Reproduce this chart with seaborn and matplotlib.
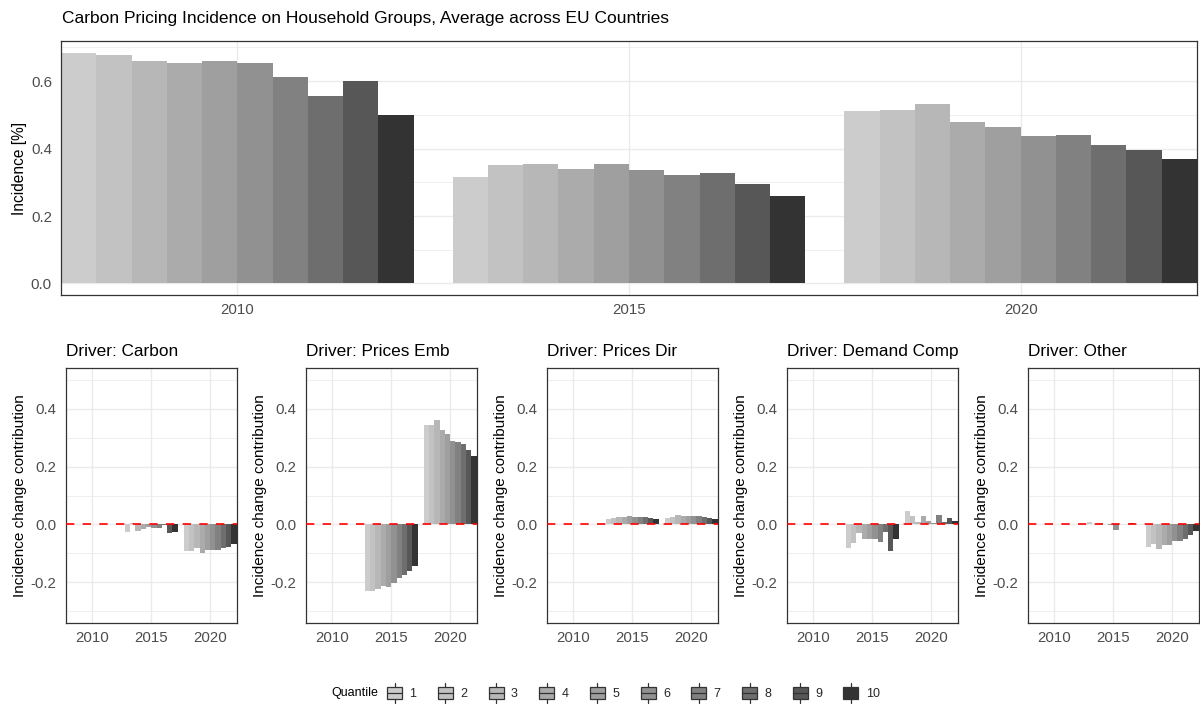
import numpy as np
import pandas as pd
import matplotlib
matplotlib.use("Agg")
import matplotlib.pyplot as plt
import seaborn as sns
from matplotlib.patches import Patch, Rectangle
from matplotlib.lines import Line2D
from matplotlib.legend_handler import HandlerBase

# ---------------- data ----------------
quantiles = ["1", "2", "3", "4", "5", "6", "7", "8", "9", "10"]
years = [2010, 2015, 2020]
incidence_2010 = [0.685, 0.679, 0.661, 0.653, 0.659, 0.653, 0.612, 0.556, 0.602, 0.499]
incidence_2015 = [0.316, 0.352, 0.355, 0.340, 0.355, 0.337, 0.322, 0.328, 0.296, 0.260]
incidence_2020 = [0.511, 0.514, 0.532, 0.479, 0.464, 0.437, 0.440, 0.411, 0.396, 0.369]

change_years = [2015, 2020]
drivers = ["Carbon", "Prices Emb", "Prices Dir", "Demand Comp", "Other"]
carbon_2015 = [-0.025, 0.005, -0.022, -0.017, -0.008, -0.014, -0.014, -0.002, -0.029, -0.025]
carbon_2020 = [-0.091, -0.091, -0.081, -0.098, -0.089, -0.088, -0.087, -0.083, -0.077, -0.067]
prices_emb_2015 = [-0.229, -0.229, -0.225, -0.213, -0.216, -0.201, -0.187, -0.175, -0.160, -0.143]
prices_emb_2020 = [0.345, 0.345, 0.362, 0.325, 0.314, 0.289, 0.286, 0.277, 0.256, 0.235]
prices_dir_2015 = [0.017, 0.023, 0.025, 0.027, 0.029, 0.027, 0.025, 0.024, 0.021, 0.017]
prices_dir_2020 = [0.021, 0.025, 0.032, 0.029, 0.029, 0.029, 0.029, 0.025, 0.023, 0.018]
demand_comp_2015 = [-0.081, -0.064, -0.031, -0.049, -0.049, -0.052, -0.060, -0.025, -0.091, -0.051]
demand_comp_2020 = [0.046, 0.030, 0.007, 0.030, 0.012, 0.006, 0.032, 0.007, 0.022, 0.013]
other_2015 = [0.008, 0.001, 0.005, 0.001, -0.002, -0.018, 0.001, 0.002, 0.005, 0.001]
other_2020 = [-0.077, -0.068, -0.084, -0.070, -0.070, -0.059, -0.059, -0.051, -0.038, -0.024]

grey_colors = ["#CCCCCC", "#C2C2C2", "#B7B7B7", "#ABABAB", "#9F9F9F",
               "#919191", "#818181", "#6E6E6E", "#575757", "#333333"]

# ---------------- tables ----------------
top_df = pd.DataFrame({
    "year": np.repeat(years, len(quantiles)),
    "quantile": quantiles * len(years),
    "value": incidence_2010 + incidence_2015 + incidence_2020,
})

driver_values = {
    "Carbon": (carbon_2015, carbon_2020),
    "Prices Emb": (prices_emb_2015, prices_emb_2020),
    "Prices Dir": (prices_dir_2015, prices_dir_2020),
    "Demand Comp": (demand_comp_2015, demand_comp_2020),
    "Other": (other_2015, other_2020),
}
rows = []
for d in drivers:
    for yr, vals in zip(change_years, driver_values[d]):
        for q, v in zip(quantiles, vals):
            rows.append({"driver": d, "year": yr, "quantile": q, "value": v})
drv_df = pd.DataFrame(rows)

# ---------------- style ----------------
sns.set_style("white")
plt.rcParams["font.family"] = ["Liberation Sans", "DejaVu Sans"]
plt.rcParams["axes.unicode_minus"] = False

W, H = 1200, 704
fig = plt.figure(figsize=(W / 100, H / 100), dpi=100)

def px_axes(left, top, right, bottom):
    return fig.add_axes([left / W, 1 - bottom / H, (right - left) / W, (bottom - top) / H])

TICK_COL = "#4D4D4D"
EDGE = "#333333"
GRID = "#EBEBEB"

def style_axes(ax, yticks, yminor, ylabel, tick_fs, label_fs):
    ax.set_axisbelow(True)
    ax.set_xticks(years)
    ax.set_xticklabels([str(y) for y in years])
    ax.set_yticks(yticks)
    ax.set_yticklabels([f"{t:.1f}" for t in yticks])
    ax.set_yticks(yminor, minor=True)
    ax.grid(which="major", axis="both", color=GRID, lw=1.0)
    ax.grid(which="minor", axis="y", color=GRID, lw=0.55)
    ax.tick_params(which="major", length=3.1, width=0.8, color=EDGE,
                   labelcolor=TICK_COL, labelsize=tick_fs)
    ax.tick_params(axis="x", pad=2.6)
    ax.tick_params(axis="y", pad=3.4)
    ax.tick_params(which="minor", length=0)
    for s in ax.spines.values():
        s.set_color(EDGE)
        s.set_linewidth(0.9)
    ax.set_xlabel("")
    ax.set_ylabel(ylabel, fontsize=label_fs, color="black", labelpad=3)

# ---------------- top panel ----------------
ax_top = px_axes(61, 41, 1197, 295)
sns.barplot(data=top_df, x="year", y="value", hue="quantile", hue_order=quantiles,
            palette=grey_colors, native_scale=True, width=0.9, gap=0,
            errorbar=None, linewidth=0, edgecolor="none", legend=False, ax=ax_top)
ymax = max(top_df["value"])
ax_top.set_xlim(2007.75, 2022.25)
ax_top.set_ylim(-0.05 * ymax, 1.05 * ymax)
style_axes(ax_top, [0.0, 0.2, 0.4, 0.6], [0.1, 0.3, 0.5, 0.7], "Incidence [%]", 10.8, 11.2)

fig.text(62 / W, 1 - 23 / H, "Carbon Pricing Incidence on Household Groups, Average across EU Countries",
         fontsize=12.5, ha="left", va="baseline", color="black")

# ---------------- driver panels ----------------
lefts = [65.7, 305.7, 546.7, 786.7, 1027.7]
for d, lx in zip(drivers, lefts):
    ax = px_axes(lx, 368.3, lx + 171, 622.7)
    sub = drv_df[drv_df["driver"] == d]
    sns.barplot(data=sub, x="year", y="value", hue="quantile", hue_order=quantiles,
                palette=grey_colors, native_scale=True, width=0.9, gap=0,
                errorbar=None, linewidth=0, edgecolor="none", legend=False, ax=ax)
    ax.axhline(0, color="red", lw=1.2, ls=(0, (5, 5)), zorder=5)
    ax.set_xlim(2007.75, 2022.25)
    ax.set_ylim(-0.34, 0.54)
    style_axes(ax, [-0.2, 0.0, 0.2, 0.4], [-0.3, -0.1, 0.1, 0.3, 0.5],
               "Incidence change contribution", 10.8, 11.0)
    fig.text(lx / W, 1 - 356 / H, f"Driver: {d}", fontsize=12.4, ha="left",
             va="baseline", color="black")

# ---------------- legend ----------------
class BoxKey(HandlerBase):
    # boxplot-style key drawn in points (handle box units)
    def create_artists(self, legend, orig_handle, xdescent, ydescent, width, height,
                       fontsize, trans):
        fc = orig_handle.get_facecolor()
        x0 = -xdescent
        yc = -ydescent + height / 2
        w = width
        bh = 8.8      # box height (pt)
        wh = 2.6      # whisker length (pt)
        lw = 0.9
        box = Rectangle((x0, yc - bh / 2), w, bh, facecolor=fc,
                        edgecolor=EDGE, lw=lw, transform=trans)
        wt = Line2D([x0 + w / 2] * 2, [yc + bh / 2, yc + bh / 2 + wh], color=EDGE, lw=lw, transform=trans)
        wb = Line2D([x0 + w / 2] * 2, [yc - bh / 2 - wh, yc - bh / 2], color=EDGE, lw=lw, transform=trans)
        med = Line2D([x0, x0 + w], [yc, yc], color=EDGE, lw=lw, transform=trans)
        return [wt, wb, box, med]

handles = [Patch(facecolor=c) for c in grey_colors]
fig.text(331 / W, 1 - 693 / H, "Quantile", fontsize=9, ha="left", va="center", color="black")
fig.legend(handles, quantiles, handler_map={Patch: BoxKey()}, loc="center left",
           bbox_to_anchor=(387 / W, 1 - 693 / H), ncol=10, frameon=False,
           fontsize=9, handlelength=1.2, handleheight=1.5, handletextpad=0.6,
           columnspacing=1.7, borderpad=0, borderaxespad=0)

fig.savefig("out.png", dpi=100)
